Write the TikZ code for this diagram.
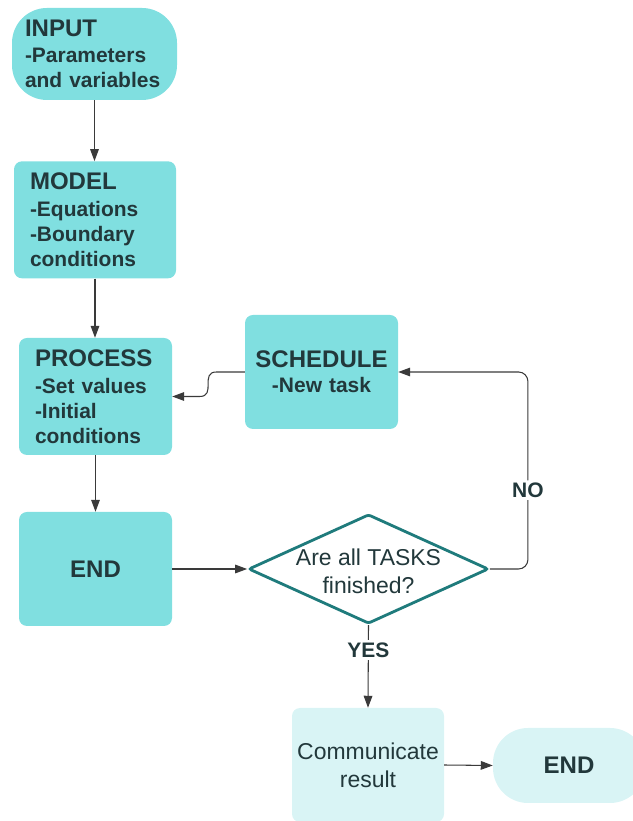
\documentclass[tikz,border=0pt]{standalone}
\usepackage{fontspec}
\setmainfont{Liberation Sans}
\usepackage{xcolor}
\usetikzlibrary{arrows.meta}
\usetikzlibrary{shapes.geometric}
\definecolor{boxteal}{HTML}{80DFE0}
\definecolor{paleteal}{HTML}{D9F4F5}
\definecolor{darkteal}{HTML}{1F7B7C}
\definecolor{inkgray}{HTML}{22383B}
\definecolor{linegray}{HTML}{3A3A3A}
\newcommand{\headsize}{\fontsize{20.5}{24}\selectfont}
\newcommand{\bodysize}{\fontsize{17.9}{21.3}\selectfont}
\newcommand{\plainsize}{\fontsize{19.6}{24}\selectfont}
\tikzset{
	block/.style={rectangle, rounded corners=0.24cm, fill=boxteal, text=inkgray, inner xsep=0.48cm, inner ysep=0pt, align=left, font=\bodysize\bfseries},
	terminal/.style={rectangle, rounded corners=1.05cm, inner ysep=0pt},
	decision/.style={diamond, draw=darkteal, line width=2.4pt, fill=white, inner sep=0pt, minimum width=7.2cm, minimum height=3.28cm, rounded corners=2pt},
	flow/.style={draw=linegray, line width=0.9pt, -{Triangle[length=0.36cm,width=0.26cm]}},
	tag/.style={fill=white, text=inkgray, font=\bodysize\bfseries, inner sep=2pt}
}

\begin{document}
\begin{tikzpicture}
				\useasboundingbox (0,0) rectangle (18.96,24.63);
				% left column
				\node[block, terminal, inner xsep=0.39cm, text width=4.17cm, minimum height=2.76cm] (input) at (2.835,23.01) {{\headsize INPUT}\\[1pt]-Parameters\\and variables};
				\node[block, text width=3.9cm, minimum height=3.51cm] (model) at (2.85,18.035) {{\headsize MODEL}\\[2pt]-Equations\\-Boundary\\conditions};
				\node[block, text width=3.63cm, minimum height=3.51cm] (process) at (2.865,12.735) {{\headsize PROCESS}\\[2pt]-Set values\\-Initial\\conditions};
				\node[block, align=center, text width=3.63cm, minimum height=3.42cm] (finish) at (2.865,7.56) {{\headsize END}};
				% loop and check
				\node[block, align=center, inner xsep=0.2cm, text width=4.19cm, minimum height=3.42cm] (schedule) at (9.645,13.47) {{\headsize SCHEDULE}\\-New task};
				\node[decision] (check) at (11.055,7.56) {};
				\node[text=inkgray, font=\plainsize, align=center] (checktext) at (11.055,7.5) {Are all TASKS\\finished?};
				% result
				\node[block, fill=paleteal, align=center, inner xsep=0.08cm, text width=4.4cm, minimum height=3.42cm, font=\plainsize] (report) at (11.04,1.68) {Communicate\\result};
				\node[block, terminal, fill=paleteal, align=center, text width=3.6cm, minimum height=2.25cm] (done) at (17.07,1.665) {{\headsize END}};
				
				% connectors
				\draw[flow] (input.south) -- (input.south |- model.north);
				\draw[flow] (model.south) -- (model.south |- process.north);
				\draw[flow] (process.south) -- (process.south |- finish.north);
				\draw[flow] (finish.east) -- (check.west);
				\draw[flow] (check.south) -- node[tag, pos=0.3] {YES} (report.north);
				\draw[flow] (report.east) -- (done.west);
				\draw[flow, rounded corners=8pt] (check.east) -- ++(1.14,0) |- node[tag, pos=0.2] {NO} (schedule.east);
				\draw[flow] (schedule.west) -- ++(-0.85,0) .. controls +(-0.5,0) and +(0.5,0) .. ++(-0.5,-0.735) -- (process.east);
			\end{tikzpicture}
\end{document}
